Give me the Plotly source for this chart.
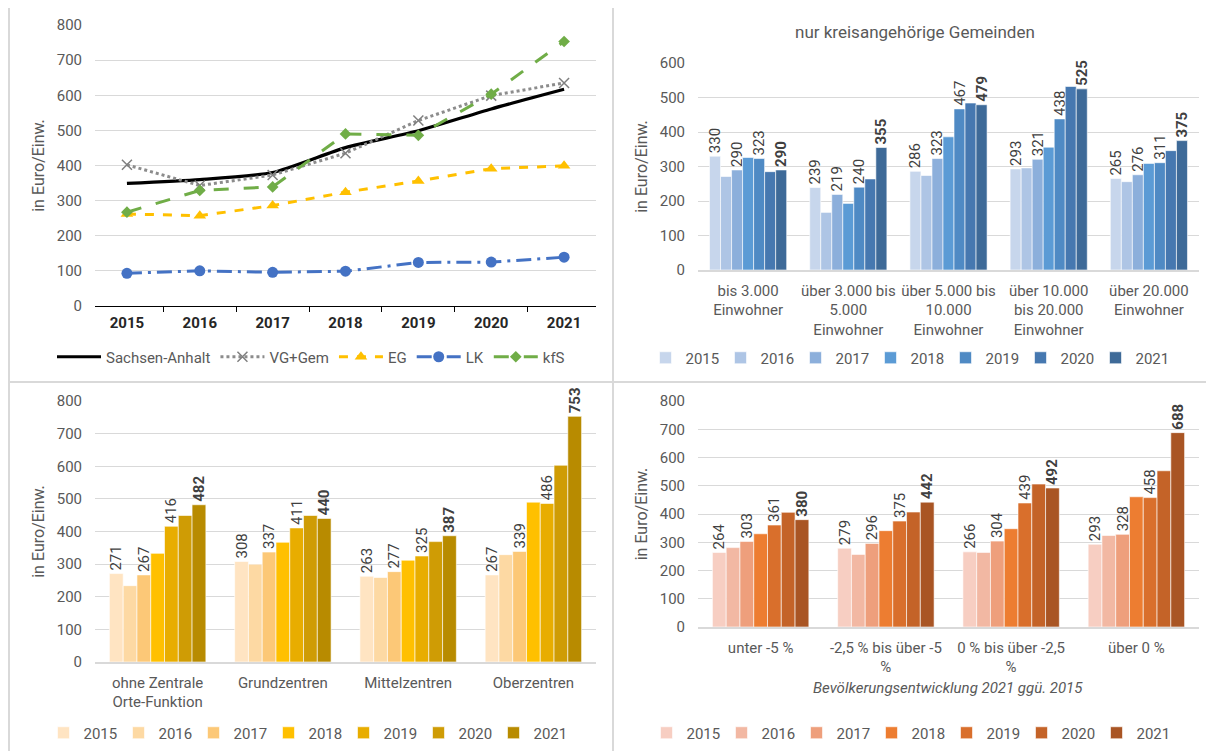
import plotly.graph_objects as go

W, H = 1214, 751
OFF = 8  # the page body adds an 8px margin round the figure
FONT = "Roboto, 'Noto Sans', sans-serif"
C_TEXT = "#595959"
C_LABEL = "#404040"
C_GRID = "#D9D9D9"

# ── Data ──────────────────────────────────────────────────────────────────────
YEARS = ["2015", "2016", "2017", "2018", "2019", "2020", "2021"]
LABELED_YEARS = ["2015", "2017", "2019", "2021"]

# top left: development by level (Euro/Einw.)
sachsen_anhalt = [349, 360, 380, 451, 499, 561, 617]
vg_gem = [402, 343, 373, 435, 528, 599, 635]
eg = [262, 257, 286, 324, 356, 391, 399]
lk = [93, 100, 96, 99, 124, 125, 139]
kfs = [267, 329, 339, 490, 486, 603, 753]

# top right: kreisangehörige Gemeinden by size class, one list per year
groesse_cats = [
    "bis 3.000<br>Einwohner",
    "über 3.000 bis<br>5.000<br>Einwohner",
    "über 5.000 bis<br>10.000<br>Einwohner",
    "über 10.000<br>bis 20.000<br>Einwohner",
    "über 20.000<br>Einwohner",
]
groesse_werte = [
    [330, 239, 286, 293, 265],
    [271, 167, 274, 296, 256],
    [290, 219, 323, 321, 276],
    [326, 193, 386, 356, 309],
    [323, 240, 467, 438, 311],
    [285, 264, 484, 532, 346],
    [290, 355, 479, 525, 375],
]

# bottom left: central place function
zentral_cats = ["ohne Zentrale<br>Orte-Funktion", "Grundzentren", "Mittelzentren", "Oberzentren"]
zentral_werte = [
    [271, 308, 263, 267],
    [234, 300, 259, 329],
    [267, 337, 277, 339],
    [333, 367, 312, 490],
    [416, 411, 325, 486],
    [449, 449, 369, 603],
    [482, 440, 387, 753],
]

# bottom right: population development 2021 vs 2015
bev_cats = ["unter -5 %", "-2,5 % bis über -5<br>%", "0 % bis über -2,5<br>%", "über 0 %"]
bev_werte = [
    [264, 279, 266, 293],
    [281, 257, 264, 324],
    [303, 296, 304, 328],
    [330, 341, 348, 461],
    [361, 375, 439, 458],
    [406, 407, 506, 553],
    [380, 442, 492, 688],
]

# ── Palettes ──────────────────────────────────────────────────────────────────
BLUES = ["#C7D6EC", "#AEC5E5", "#8CAFDB", "#5B9BD5", "#4F8AC4", "#4678B0", "#3E6A98"]
GOLDS = ["#FFE4C2", "#FDD9A3", "#FCC877", "#FFC000", "#E8AD00", "#CF9C05", "#B88B00"]
ORANGES = ["#F7CEC2", "#F2B8A3", "#EE9F7C", "#ED7D31", "#D96F2C", "#C46328", "#A95524"]


def px_x(px):
    return (px - OFF) / W


def px_y(py):
    return 1 - (py - OFF) / H


fig = go.Figure()

# ── Top left: lines ───────────────────────────────────────────────────────────
line_specs = [
    ("Sachsen-Anhalt", sachsen_anhalt, dict(color="#000000", width=3.2, shape="spline", smoothing=0.6),
     dict(size=1, color="#000000"), "lines"),
    ("VG+Gem", vg_gem, dict(color="#8C8C8C", width=3, dash="dot"),
     dict(symbol="x-thin-open", size=10, color="#7F7F7F", line=dict(width=1.5, color="#7F7F7F")), "lines+markers"),
    ("EG", eg, dict(color="#FFC000", width=3, dash="dash"),
     dict(symbol="triangle-up", size=11, color="#FFC000"), "lines+markers"),
    ("LK", lk, dict(color="#4472C4", width=3, dash="longdashdot"),
     dict(symbol="circle", size=11, color="#4472C4"), "lines+markers"),
    ("kfS", kfs, dict(color="#70AD47", width=3, dash="longdash"),
     dict(symbol="diamond", size=9, color="#70AD47"), "lines+markers"),
]
for name, vals, line, marker, mode in line_specs:
    fig.add_trace(go.Scatter(
        x=YEARS, y=vals, name=name, mode=mode, line=line, marker=marker,
        xaxis="x", yaxis="y", legend="legend",
        hovertemplate="%{x}: %{y} Euro/Einw.<extra>" + name + "</extra>",
    ))


# ── Bar panels ────────────────────────────────────────────────────────────────
def add_bars(cats, werte, colors, xa, ya, leg):
    for i, year in enumerate(YEARS):
        vals = werte[i]
        if year == "2021":
            text = [f"<b>{v}</b>" for v in vals]
        elif year in LABELED_YEARS:
            text = [str(v) for v in vals]
        else:
            text = ["" for _ in vals]
        fig.add_trace(go.Bar(
            x=cats, y=vals, name=year, text=text,
            textposition="outside", textangle=-90, constraintext="none",
            textfont=dict(size=15, color=C_LABEL, family=FONT), cliponaxis=False,
            marker=dict(color=colors[i], line=dict(color="white", width=0.6)),
            xaxis=xa, yaxis=ya, legend=leg,
            hovertemplate="%{x}: %{y}<extra>" + year + "</extra>",
        ))


add_bars(groesse_cats, groesse_werte, BLUES, "x2", "y2", "legend2")
add_bars(zentral_cats, zentral_werte, GOLDS, "x3", "y3", "legend3")
add_bars(bev_cats, bev_werte, ORANGES, "x4", "y4", "legend4")

# ── Axes ──────────────────────────────────────────────────────────────────────
tick_font = dict(size=15, color=C_TEXT, family=FONT)


def yaxis(dom, top, anchor):
    return dict(
        domain=dom, range=[0, top], dtick=100, anchor=anchor,
        showgrid=True, gridcolor=C_GRID, gridwidth=1, zeroline=False,
        showline=False, tickfont=tick_font, ticklabelstandoff=12,
        title=dict(text="in Euro/Einw.", font=dict(size=16, color=C_TEXT, family=FONT), standoff=8),
        automargin=False, fixedrange=True,
    )


def xaxis_bars(dom, anchor):
    return dict(
        domain=dom, anchor=anchor, type="category",
        showgrid=False, zeroline=False, showline=True, linecolor=C_GRID, linewidth=1.5,
        ticks="", tickfont=tick_font, ticklabelstandoff=6, automargin=False, fixedrange=True,
    )


dom_x_left = [px_x(95), px_x(596)]
dom_x_right = [px_x(698), px_x(1199)]

fig.update_layout(
    xaxis=dict(
        domain=dom_x_left, anchor="y", type="category",
        showgrid=False, zeroline=False, showline=True, linecolor="#000000", linewidth=1.3,
        ticks="outside", tickson="boundaries", ticklen=5, tickcolor="#000000",
        tickfont=dict(size=15, color="#262626", family=FONT, weight="bold"),
        ticklabelstandoff=3, automargin=False, fixedrange=True,
    ),
    yaxis=yaxis([px_y(306), px_y(25)], 800, "x"),
    xaxis2=xaxis_bars(dom_x_right, "y2"),
    yaxis2=yaxis([px_y(270), px_y(63)], 600, "x2"),
    xaxis3=xaxis_bars(dom_x_left, "y3"),
    yaxis3=yaxis([px_y(662), px_y(401)], 800, "x3"),
    xaxis4=xaxis_bars(dom_x_right, "y4"),
    yaxis4=yaxis([px_y(627), px_y(401)], 800, "x4"),
)

# ── Legends ───────────────────────────────────────────────────────────────────
leg_font = dict(size=15, color=C_TEXT, family=FONT)


def legend(cx, cy, itemwidth=30, entrywidth=None):
    leg = dict(
        orientation="h", x=px_x(cx), y=px_y(cy), xanchor="center", yanchor="middle",
        font=leg_font, bgcolor="rgba(0,0,0,0)", itemwidth=itemwidth, tracegroupgap=0,
        itemclick=False, itemdoubleclick=False,
    )
    if entrywidth:
        leg.update(entrywidth=entrywidth, entrywidthmode="pixels")
    return leg


fig.update_layout(
    legend=legend(311, 357, itemwidth=44),
    legend2=legend(908, 358, entrywidth=30),
    legend3=legend(306, 733, entrywidth=30),
    legend4=legend(909, 733, entrywidth=30),
)

# ── Panel frames and texts ────────────────────────────────────────────────────
frame = dict(type="line", xref="paper", yref="paper", line=dict(color="#D9D9D9", width=2), layer="below")
fig.update_layout(
    shapes=[
        dict(frame, x0=px_x(9), x1=px_x(9), y0=0, y1=px_y(7)),
        dict(frame, x0=px_x(9), x1=1, y0=px_y(7), y1=px_y(7)),
        dict(frame, x0=px_x(613), x1=px_x(613), y0=0, y1=px_y(7)),
        dict(frame, x0=px_x(9), x1=1, y0=px_y(382), y1=px_y(382)),
    ],
    annotations=[
        dict(text="nur kreisangehörige Gemeinden", xref="paper", yref="paper",
             x=px_x(915), y=px_y(32), xanchor="center", yanchor="middle", showarrow=False,
             font=dict(size=17, color=C_TEXT, family=FONT)),
        dict(text="<i>Bevölkerungsentwicklung 2021 ggü. 2015</i>", xref="paper", yref="paper",
             x=px_x(948), y=px_y(688), xanchor="center", yanchor="middle", showarrow=False,
             font=dict(size=15, color=C_TEXT, family=FONT)),
    ],
)

fig.update_layout(
    width=W, height=H,
    margin=dict(l=0, r=0, t=0, b=0, pad=0, autoexpand=False),
    paper_bgcolor="white", plot_bgcolor="white",
    font=dict(family=FONT, color=C_TEXT),
    barmode="group", bargap=0.23, bargroupgap=0,
)

fig.write_html("out.html")
